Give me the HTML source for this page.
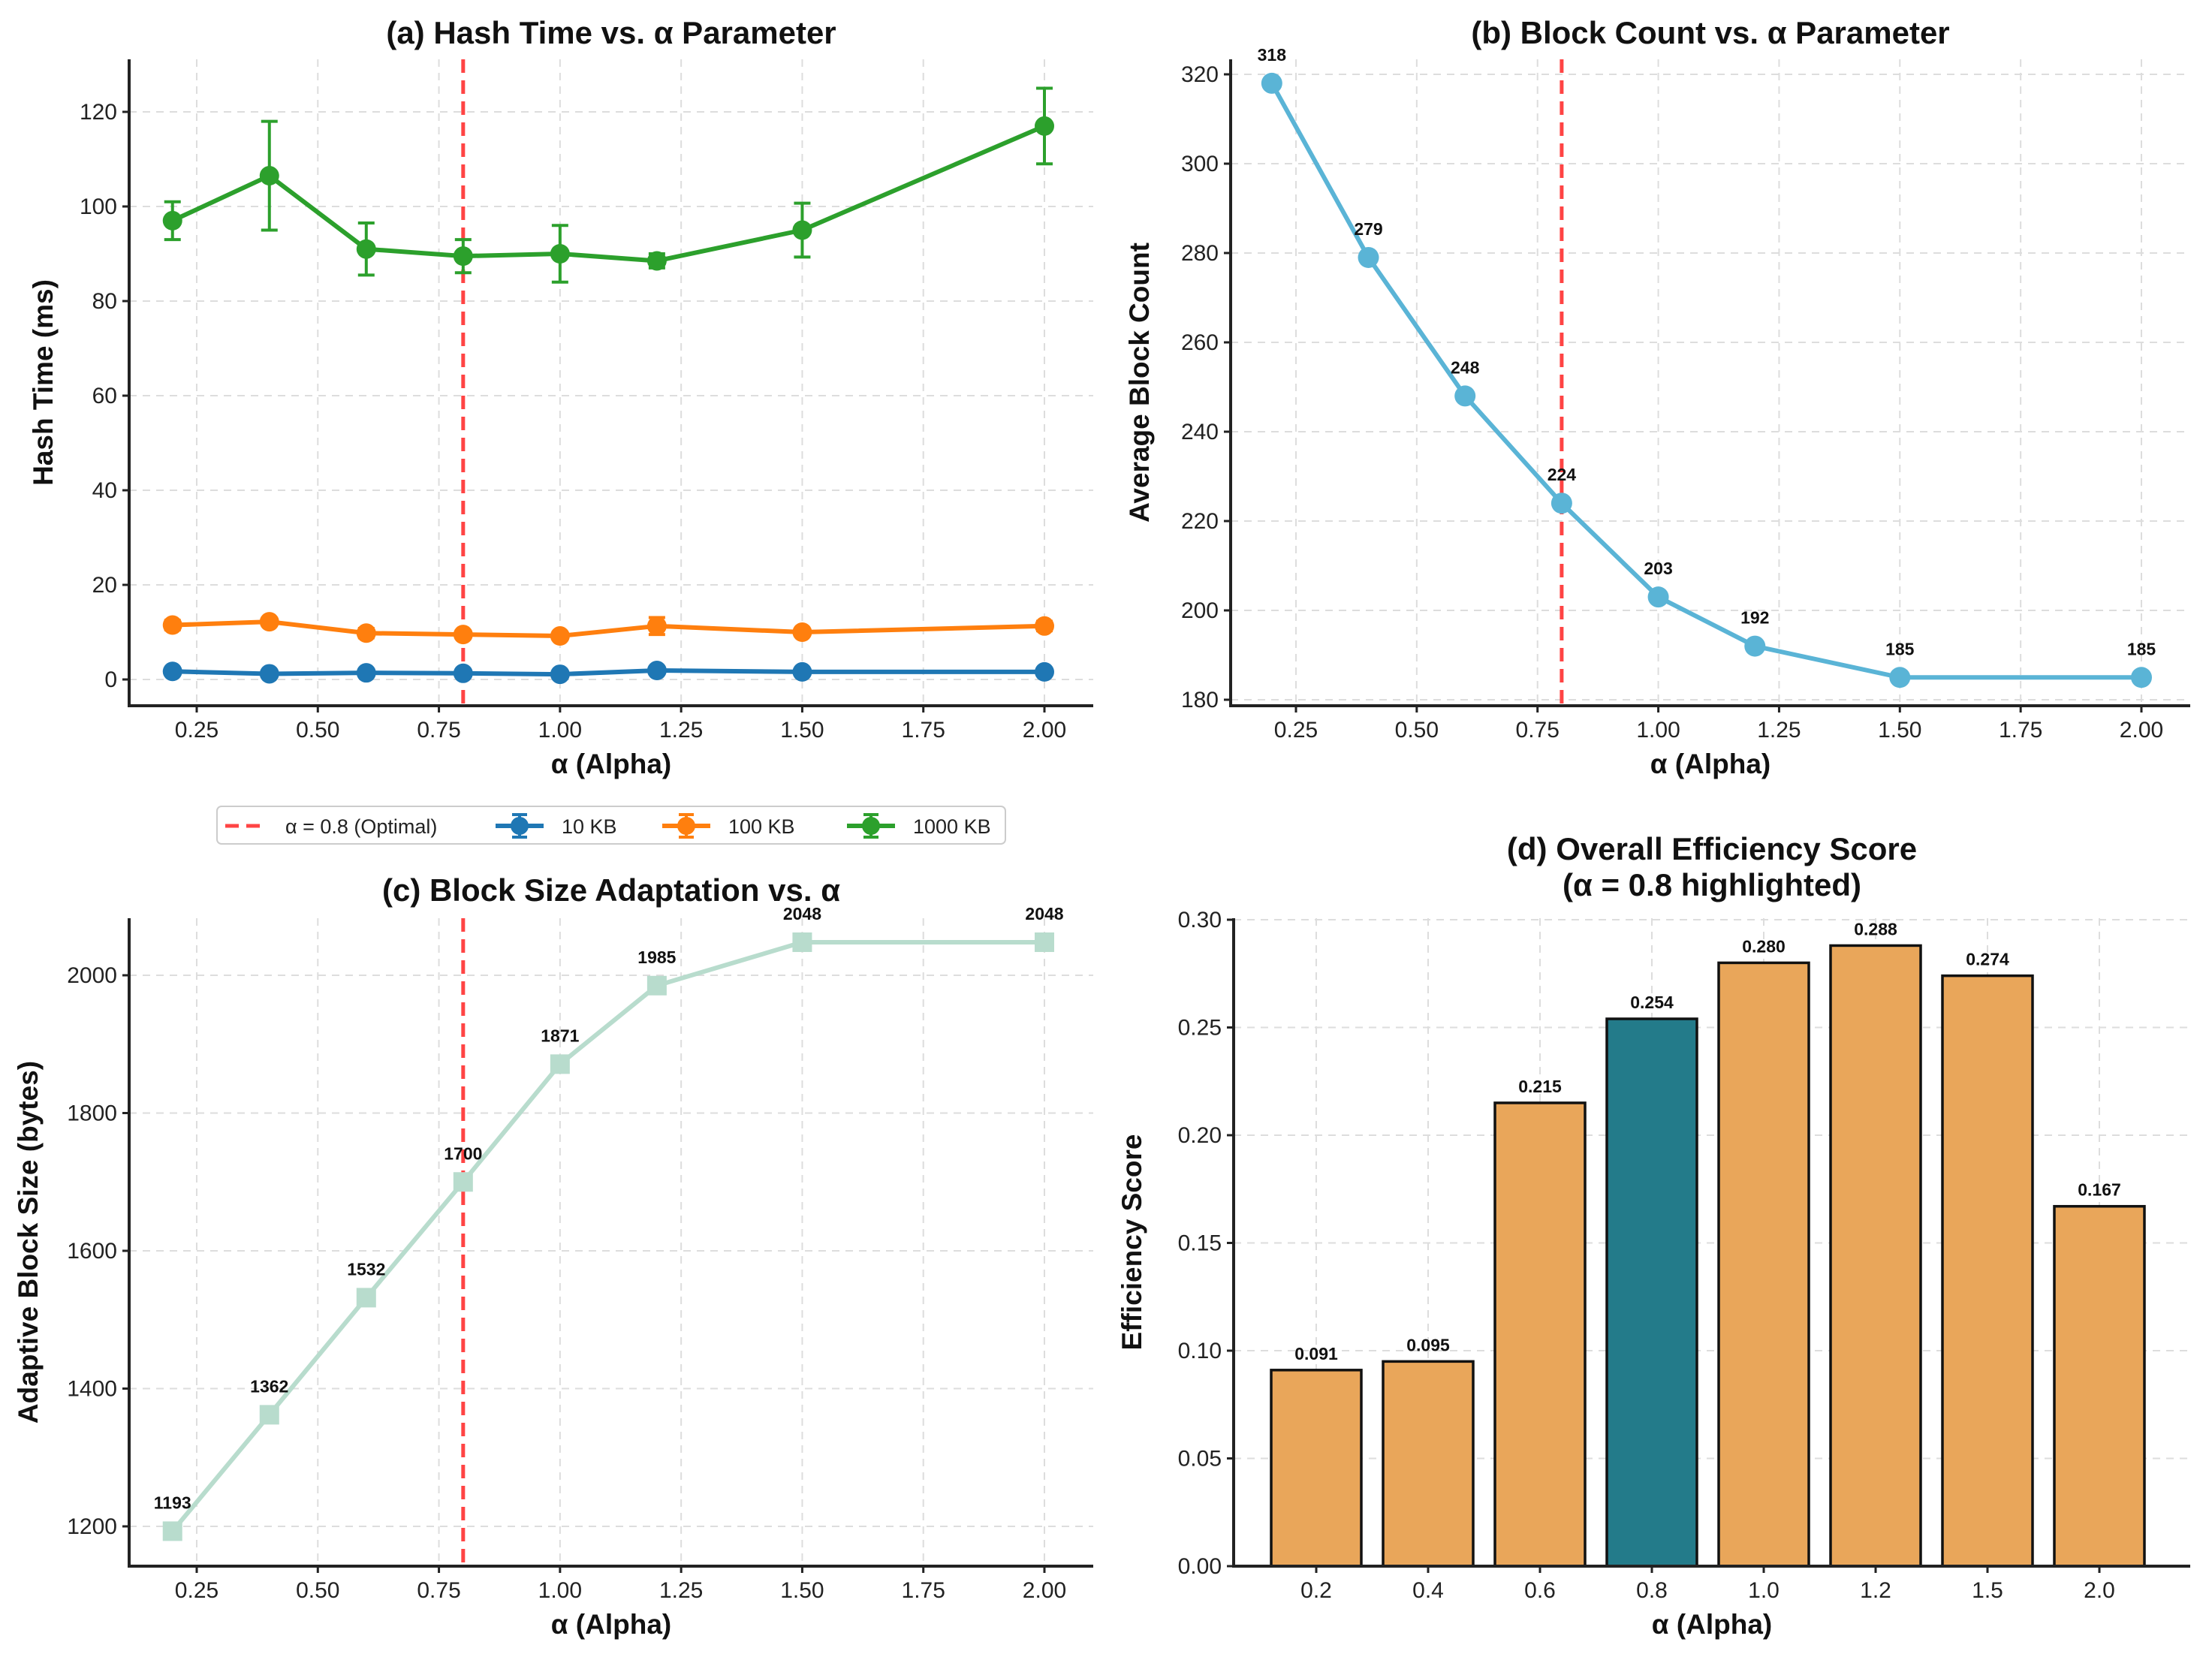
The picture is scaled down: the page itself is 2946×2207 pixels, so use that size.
<!DOCTYPE html>
<html><head><meta charset="utf-8"><style>
html,body{margin:0;padding:0;background:#fff}
svg{display:block;font-family:"Liberation Sans",Arial,sans-serif}
</style></head><body>
<svg id="fig" width="2946" height="2207" viewBox="0 0 2946 2207" xmlns="http://www.w3.org/2000/svg"></svg>
<script>
const alphas = [0.2, 0.4, 0.6, 0.8, 1.0, 1.2, 1.5, 2.0];
const hash10 = [1.7, 1.2, 1.4, 1.3, 1.1, 1.9, 1.6, 1.6];
const hash10Err = [0.4, 0.3, 0.3, 0.3, 0.3, 0.5, 0.4, 0.4];
const hash100 = [11.5, 12.2, 9.8, 9.5, 9.2, 11.3, 10.0, 11.3];
const hash100Err = [1.0, 0.8, 1.0, 0.8, 0.8, 1.8, 0.8, 1.0];
const hash1000 = [97, 106.5, 91, 89.5, 90, 88.5, 95, 117];
const hash1000Err = [4, 11.5, 5.5, 3.5, 6, 1.5, 5.7, 8];
const blockCounts = [318, 279, 248, 224, 203, 192, 185, 185];
const blockSizes = [1193, 1362, 1532, 1700, 1871, 1985, 2048, 2048];
const effScores = [0.091, 0.095, 0.215, 0.254, 0.280, 0.288, 0.274, 0.167];
const barLabels = ["0.2","0.4","0.6","0.8","1.0","1.2","1.5","2.0"];
const xTicks = [0.25, 0.5, 0.75, 1.0, 1.25, 1.5, 1.75, 2.0];
const yTicksA = [0, 20, 40, 60, 80, 100, 120];
const yTicksB = [180, 200, 220, 240, 260, 280, 300, 320];
const yTicksC = [1200, 1400, 1600, 1800, 2000];
const yTicksD = [0, 0.05, 0.10, 0.15, 0.20, 0.25, 0.30];
const optimalAlpha = 0.8;

const NS = "http://www.w3.org/2000/svg";
const svg = document.getElementById('fig');
function mk(tag, attrs, parent, text) {
  const e = document.createElementNS(NS, tag);
  for (const k in attrs) e.setAttribute(k, attrs[k]);
  if (text !== undefined) e.textContent = text;
  (parent || svg).appendChild(e);
  return e;
}
function lin(d0, d1, r0, r1) { return v => r0 + (v - d0) * (r1 - r0) / (d1 - d0); }

function panel(cfg) {
  const g = mk('g', {});
  
  
  const {L, R, T, B} = cfg;
  cfg.xt.forEach(t => {
    const x = cfg.xs(t);
    const gl = mk('line', {x1: x, x2: x, y1: T, y2: B, stroke: '#ddd', 'stroke-width': 2, 'stroke-dasharray': '10 8'}, g);
    
    
  });
  cfg.yt.forEach(t => {
    const y = cfg.ys(t);
    const gl = mk('line', {x1: L, x2: R, y1: y, y2: y, stroke: '#ddd', 'stroke-width': 2, 'stroke-dasharray': '10 8'}, g);
    
    
  });
  const ax = mk('path', {d: `M${L} ${T} L${L} ${B} L${R} ${B}`, fill: 'none', stroke: '#222', 'stroke-width': 4}, g);
  
  
  cfg.xt.forEach((t, i) => {
    const x = cfg.xs(t);
    mk('line', {x1: x, x2: x, y1: B, y2: B + 9, stroke: '#222', 'stroke-width': 3}, g);
    const tx = mk('text', {x: x, y: B + 42, 'font-size': 30, 'text-anchor': 'middle', fill: '#222'}, g, cfg.xl ? cfg.xl[i] : t.toFixed(2));
    
    
  });
  cfg.yt.forEach(t => {
    const y = cfg.ys(t);
    mk('line', {x1: L - 9, x2: L, y1: y, y2: y, stroke: '#222', 'stroke-width': 3}, g);
    const tx = mk('text', {x: L - 16, y: y + 10, 'font-size': 30, 'text-anchor': 'end', fill: '#222'}, g, cfg.yfmt(t));
    
    
  });
  const xl = mk('text', {x: (L + R) / 2, y: B + 90, 'font-size': 37, 'font-weight': 'bold', 'text-anchor': 'middle', fill: '#111'}, g, 'α (Alpha)');
  
  
  const yx = cfg.ylx, yy = (T + B) / 2;
  const yl = mk('text', {x: yx, y: yy, 'font-size': 37, 'font-weight': 'bold', 'text-anchor': 'middle', fill: '#111', transform: `rotate(-90 ${yx} ${yy})`}, g, cfg.ylabel);
  
  
  cfg.title.forEach((line, i) => {
    const tt = mk('text', {x: (L + R) / 2, y: cfg.titleY + i * 48, 'font-size': 42, 'font-weight': 'bold', 'text-anchor': 'middle', fill: '#111'}, g, line);
    
    
  });
  return g;
}
function vline(g, x, T, B) {
  const l = mk('line', {x1: x, x2: x, y1: T, y2: B, stroke: '#f44', 'stroke-width': 5, 'stroke-dasharray': '18 10'}, g);
  
  
}

// ---------- Panel A ----------
(function(){
  const L=172,R=1456,T=79,B=940;
  const xs = lin(0.25, 2.0, 262, 1391);
  const ys = lin(0, 120, 905, 149);
  const g = panel({name:'panel-a-hash-time',L,R,T,B,xs,ys,xt:xTicks,yt:yTicksA,yfmt:t=>String(t),ylabel:'Hash Time (ms)',ylx:70,title:['(a) Hash Time vs. α Parameter'],titleY:58});
  vline(g, xs(optimalAlpha), T, B);
  const series = [[hash10,hash10Err,'#1f77b4','10kb'],[hash100,hash100Err,'#ff7f0e','100kb'],[hash1000,hash1000Err,'#2ca02c','1000kb']];
  series.forEach(([vals, errs, col, nm]) => {
    const sg = mk('g', {}, g);
    
    
    mk('polyline', {points: vals.map((v,i)=>xs(alphas[i])+','+ys(v)).join(' '), fill:'none', stroke:col, 'stroke-width':6, 'stroke-linejoin':'round'}, sg);
    vals.forEach((v,i) => {
      const x = xs(alphas[i]);
      const y1 = ys(v - errs[i]), y2 = ys(v + errs[i]);
      mk('path', {d:`M${x} ${y1} L${x} ${y2} M${x-11} ${y1} L${x+11} ${y1} M${x-11} ${y2} L${x+11} ${y2}`, stroke:col, 'stroke-width':4, fill:'none'}, sg);
      const c = mk('circle', {cx:x, cy:ys(v), r:13, fill:col}, sg);
      
      
    });
  });
})();

// ---------- Legend ----------
(function(){
  const lg = mk('g', {});
  
  
  mk('rect', {x:289, y:1074, width:1050, height:50, rx:6, fill:'#fff', stroke:'#ccc', 'stroke-width':2}, lg);
  mk('line', {x1:300, x2:352, y1:1100, y2:1100, stroke:'#f44', 'stroke-width':5, 'stroke-dasharray':'18 10'}, lg);
  const t0 = mk('text', {x:380, y:1110, 'font-size':27, fill:'#222'}, lg, 'α = 0.8 (Optimal)');
  
  
  const items = [['#1f77b4','10 KB',660],['#ff7f0e','100 KB',882],['#2ca02c','1000 KB',1128]];
  items.forEach(([col, lab, x]) => {
    mk('line', {x1:x, x2:x+64, y1:1100, y2:1100, stroke:col, 'stroke-width':6}, lg);
    mk('path', {d:`M${x+32} 1085 L${x+32} 1115 M${x+22} 1085 L${x+42} 1085 M${x+22} 1115 L${x+42} 1115`, stroke:col, 'stroke-width':4}, lg);
    mk('circle', {cx:x+32, cy:1100, r:12, fill:col}, lg);
    const t = mk('text', {x:x+88, y:1110, 'font-size':27, fill:'#222'}, lg, lab);
    
    
  });
})();

// ---------- Panel B ----------
(function(){
  const L=1639,R=2917,T=79,B=940;
  const xs = lin(0.25, 2.0, 1726, 2852);
  const ys = lin(180, 320, 932, 99);
  const g = panel({name:'panel-b-block-count',L,R,T,B,xs,ys,xt:xTicks,yt:yTicksB,yfmt:t=>String(t),ylabel:'Average Block Count',ylx:1530,title:['(b) Block Count vs. α Parameter'],titleY:58});
  vline(g, xs(optimalAlpha), T, B);
  const col = '#5ab4d6';
  mk('polyline', {points: blockCounts.map((v,i)=>xs(alphas[i])+','+ys(v)).join(' '), fill:'none', stroke:col, 'stroke-width':6, 'stroke-linejoin':'round'}, g);
  blockCounts.forEach((v,i) => {
    const c = mk('circle', {cx:xs(alphas[i]), cy:ys(v), r:14, fill:col}, g);
    
    
    const t = mk('text', {x:xs(alphas[i]), y:ys(v)-30, 'font-size':23, 'font-weight':'bold', 'text-anchor':'middle', fill:'#111'}, g, String(v));
    
    
  });
})();

// ---------- Panel C ----------
(function(){
  const L=172,R=1456,T=1223,B=2086;
  const xs = lin(0.25, 2.0, 262, 1391);
  const ys = lin(1200, 2000, 2033, 1299);
  const g = panel({name:'panel-c-block-size',L,R,T,B,xs,ys,xt:xTicks,yt:yTicksC,yfmt:t=>String(t),ylabel:'Adaptive Block Size (bytes)',ylx:50,title:['(c) Block Size Adaptation vs. α'],titleY:1200});
  vline(g, xs(optimalAlpha), T, B);
  const col = '#b8dccd';
  mk('polyline', {points: blockSizes.map((v,i)=>xs(alphas[i])+','+ys(v)).join(' '), fill:'none', stroke:col, 'stroke-width':6, 'stroke-linejoin':'round'}, g);
  blockSizes.forEach((v,i) => {
    const x = xs(alphas[i]), y = ys(v);
    const s = mk('rect', {x:x-13, y:y-13, width:26, height:26, fill:col}, g);
    
    
    const t = mk('text', {x:x, y:y-30, 'font-size':23, 'font-weight':'bold', 'text-anchor':'middle', fill:'#111'}, g, String(v));
    
    
  });
})();

// ---------- Panel D ----------
(function(){
  const L=1643,R=2917,T=1223,B=2086;
  const bx = lin(0, 7, 1753, 2796);
  const ys = lin(0, 0.30, 2086, 1225);
  const idx = [0,1,2,3,4,5,6,7];
  const g = panel({name:'panel-d-efficiency',L,R,T,B,xs:bx,ys,xt:idx,xl:barLabels,yt:yTicksD,yfmt:t=>t.toFixed(2),ylabel:'Efficiency Score',ylx:1520,title:['(d) Overall Efficiency Score','(α = 0.8 highlighted)'],titleY:1145});
  effScores.forEach((v,i) => {
    const x = bx(i), y = ys(v);
    const hl = barLabels[i] === '0.8';
    const r = mk('rect', {x:x-60, y:y, width:120, height:B-y, fill: hl ? '#237b8a' : '#e9a65a', stroke:'#111', 'stroke-width':3.5}, g);
    
    
    const t = mk('text', {x:x, y:y-14, 'font-size':23, 'font-weight':'bold', 'text-anchor':'middle', fill:'#111'}, g, v.toFixed(3));
    
    
  });
  mk('path', {d:`M${L} ${T} L${L} ${B} L${R} ${B}`, fill:'none', stroke:'#222', 'stroke-width':4}, g);
})();
</script>
</body></html>
